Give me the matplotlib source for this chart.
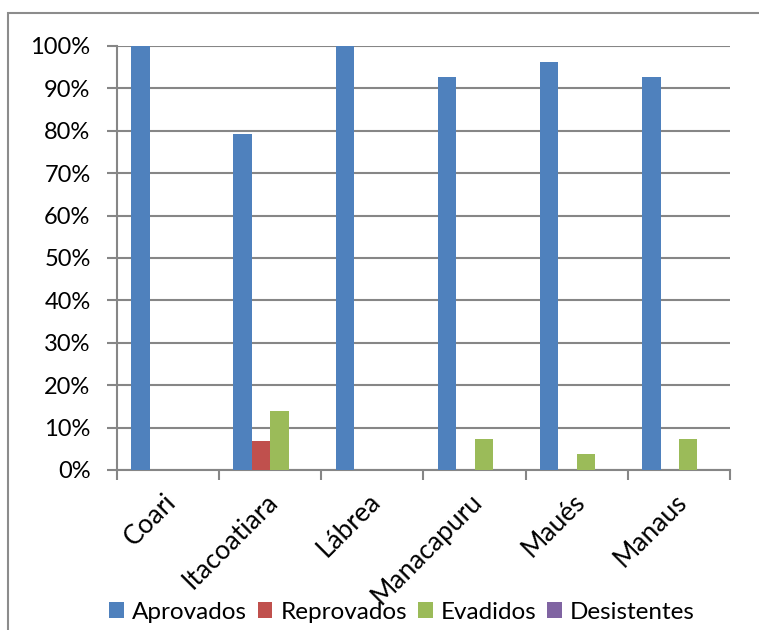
import numpy as np
import matplotlib.pyplot as plt
from matplotlib.patches import Rectangle
from matplotlib.ticker import FuncFormatter

plt.rcParams['font.family'] = ['Lato', 'DejaVu Sans']

cidades = ['Coari', 'Itacoatiara', 'Lábrea', 'Manacapuru', 'Maués', 'Manaus']
aprovados = [100.0, 79.3, 100.0, 92.6, 96.3, 92.6]
reprovados = [0.0, 6.9, 0.0, 0.0, 0.0, 0.0]
evadidos = [0.0, 13.8, 0.0, 7.4, 3.7, 7.4]
desistentes = [0.0, 0.0, 0.0, 0.0, 0.0, 0.0]

series = [('Aprovados', aprovados, '#4F81BD'),
          ('Reprovados', reprovados, '#C0504D'),
          ('Evadidos', evadidos, '#9BBB59'),
          ('Desistentes', desistentes, '#8064A2')]

fig = plt.figure(figsize=(7.59, 6.30), dpi=100)
# moldura do grafico
fig.patches.append(Rectangle((8/759, -0.1), 1.1, (630-13)/630 + 0.1,
                             transform=fig.transFigure, fill=False,
                             edgecolor='#8C8C8C', lw=1.5))
ax = fig.add_axes([117/759, (630-470)/630, (730-117)/759, (470-46)/630])

x = np.arange(len(cidades))
w = 0.18
for i, (nome, vals, cor) in enumerate(series):
    ax.bar(x + (i - 1.5) * w, vals, w, color=cor, label=nome, zorder=3)

ax.set_xlim(-0.5, len(cidades) - 0.5)
ax.set_ylim(0, 100)
ax.set_yticks(np.arange(0, 101, 10))
ax.yaxis.set_major_formatter(FuncFormatter(lambda v, p: '%d%%' % v))
ax.grid(axis='y', color='#868686', lw=1.5, zorder=0)

for s in ['top', 'right']:
    ax.spines[s].set_visible(False)
for s in ['left', 'bottom']:
    ax.spines[s].set_color('#868686')
    ax.spines[s].set_linewidth(1.5)

ax.tick_params(axis='y', length=7, width=1.5, color='#868686', labelsize=17, pad=12)
ax.set_xticks(x + 0.04)
ax.set_xticks(np.arange(-0.5, len(cidades), 1), minor=True)
ax.tick_params(axis='x', which='major', length=0, pad=20)
ax.tick_params(axis='x', which='minor', length=7, width=1.5, color='#868686')
ax.set_xticklabels(cidades, rotation=45, ha='right', va='center',
                   rotation_mode='anchor', fontsize=19)

ax.legend(loc='center', bbox_to_anchor=(0.465, -0.335), ncol=4, frameon=False,
          fontsize=17.5, handlelength=0.6, handleheight=0.6, handletextpad=0.33,
          columnspacing=0.45)

fig.savefig('out.png', dpi=100)
